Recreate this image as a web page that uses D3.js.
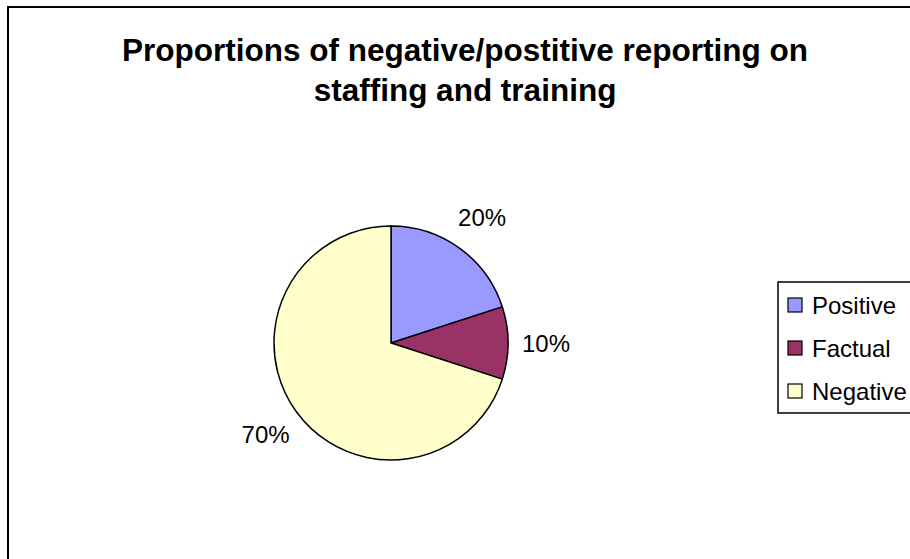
<!DOCTYPE html>
<html>
<head>
<meta charset="utf-8">
<script src="https://cdn.jsdelivr.net/npm/d3@7"></script>
<style>
  body { margin: 0; background: #fff; }
  text { font-family: "Liberation Sans", Arial, sans-serif; }
</style>
</head>
<body>
<div id="pie_chart"></div>
<script>
// DECLARE VARIABLES
var categories = ["Positive", "Factual", "Negative"];
var shares = [20, 10, 70];
var sliceColors = ["#9999FF", "#993366", "#FFFFCC"];
var titleLines = ["Proportions of negative/postitive reporting on", "staffing and training"];

var width = 910;
var height = 559;
var radius = 117;
var center = { x: 391, y: 343 };

var svg = d3
  .select("#pie_chart")
  .append("svg")
  .attr("width", width)
  .attr("height", height);

// chart border (runs off the right and bottom of the picture)
svg
  .append("rect")
  .attr("x", 8)
  .attr("y", 7)
  .attr("width", 1000)
  .attr("height", 700)
  .style("fill", "white")
  .style("stroke", "black")
  .style("stroke-width", 2);

// TITLE
svg
  .selectAll(".title")
  .data(titleLines)
  .enter()
  .append("text")
  .attr("class", "title")
  .attr("x", 465)
  .attr("y", function (d, i) {
    return 61 + i * 40;
  })
  .attr("text-anchor", "middle")
  .style("font-size", "31.5px")
  .style("font-weight", "bold")
  .text(function (d) {
    return d;
  });

// PIE
var data = categories.map(function (c, i) {
  return { name: c, value: shares[i], color: sliceColors[i] };
});

var pie = d3
  .pie()
  .sort(null)
  .value(function (d) {
    return d.value;
  });

var arc = d3.arc().innerRadius(0).outerRadius(radius);
var labelArc = d3.arc().innerRadius(radius + 38).outerRadius(radius + 38);

var pie_g = svg
  .append("g")
  .attr("transform", "translate(" + center.x + "," + center.y + ")");

pie_g
  .selectAll("path")
  .data(pie(data))
  .enter()
  .append("path")
  .attr("d", arc)
  .style("fill", function (d) {
    return d.data.color;
  })
  .style("stroke", "black")
  .style("stroke-width", 1.5);

var total = d3.sum(shares);
pie_g
  .selectAll(".pct")
  .data(pie(data))
  .enter()
  .append("text")
  .attr("class", "pct")
  .attr("x", function (d) {
    return labelArc.centroid(d)[0];
  })
  .attr("y", function (d) {
    return labelArc.centroid(d)[1];
  })
  .attr("text-anchor", "middle")
  .attr("dominant-baseline", "central")
  .style("font-size", "24px")
  .text(function (d) {
    return Math.round((d.data.value / total) * 100) + "%";
  });

// LEGEND
var legend = svg.append("g").attr("transform", "translate(778,282)");

legend
  .append("rect")
  .attr("x", 0)
  .attr("y", 0)
  .attr("width", 200)
  .attr("height", 131)
  .style("fill", "white")
  .style("stroke", "black")
  .style("stroke-width", 1.5);

var rows = legend
  .selectAll(".row")
  .data(data)
  .enter()
  .append("g")
  .attr("class", "row")
  .attr("transform", function (d, i) {
    return "translate(10," + (23 + i * 43) + ")";
  });

rows
  .append("rect")
  .attr("x", 0)
  .attr("y", -7)
  .attr("width", 14)
  .attr("height", 14)
  .style("fill", function (d) {
    return d.color;
  })
  .style("stroke", "black")
  .style("stroke-width", 1.2);

rows
  .append("text")
  .attr("x", 24)
  .attr("y", 0)
  .attr("dominant-baseline", "central")
  .style("font-size", "24px")
  .text(function (d) {
    return d.name;
  });
</script>
</body>
</html>
